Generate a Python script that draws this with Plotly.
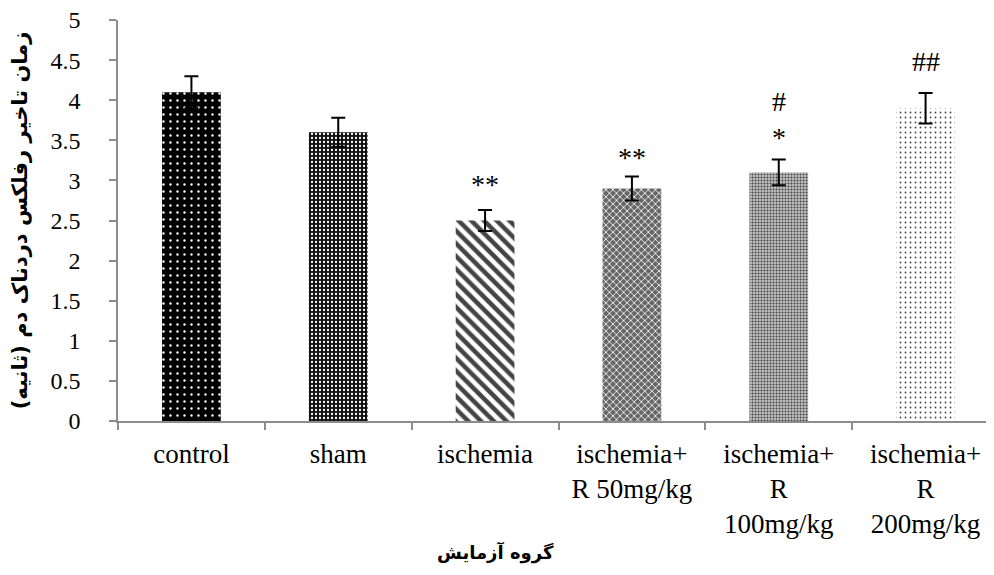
import plotly.graph_objects as go

categories = ["control", "sham", "ischemia", "ischemia+<br>R 50mg/kg",
              "ischemia+<br>R<br>100mg/kg", "ischemia+<br>R<br>200mg/kg"]
means = [4.1, 3.6, 2.5, 2.9, 3.1, 3.9]
errors = [0.2, 0.18, 0.13, 0.15, 0.16, 0.19]

sig_cats = [2, 3, 4, 5]
sig_y = [2.95, 3.29, 3.76, 4.48]
sig_text = ["**", "**", "#<br>*", "##"]

y_title = "زمان تاخیر رفلکس دردناک دم (ثانیه)"
x_title = "گروه آزمایش"

pat_shape = [".", ".", "\\", "x", ".", "."]
pat_bg = ["#000000", "#101010", "#ffffff", "#666666", "#c0c0c0", "#ffffff"]
pat_fg = ["#ffffff", "#505050", "#000000", "#a4a4a4", "#8a8a8a", "#222222"]
pat_size = [7, 4, 9, 5, 3, 5]
pat_sol = [0.09, 0.25, 0.5, 0.3, 0.35, 0.1]

fig = go.Figure()
fig.add_trace(go.Bar(
    x=categories, y=means, width=0.4,
    marker=dict(
        color=pat_bg,
        line=dict(width=0),
        pattern=dict(shape=pat_shape, bgcolor=pat_bg, fgcolor=pat_fg, fgopacity=1,
                     size=pat_size, solidity=pat_sol, fillmode="overlay"),
    ),
    error_y=dict(type="data", array=errors, color="black", thickness=2, width=7),
    showlegend=False,
))

for c, yv, t in zip(sig_cats, sig_y, sig_text):
    fig.add_annotation(x=categories[c], y=yv, text=t, showarrow=False,
                       font=dict(family="Liberation Serif", size=28, color="black"))

# x-axis title, centred on the whole chart as in the reference
fig.add_annotation(xref="paper", yref="paper", x=0.429, y=-0.329,
                   xanchor="center", yanchor="middle",
                   text="<b>" + x_title + "</b>", showarrow=False,
                   font=dict(family="DejaVu Sans", size=18, color="black"))

serif = "Liberation Serif, Times New Roman, serif"
fig.update_layout(
    width=994, height=575,
    margin=dict(l=110, r=3, t=12, b=162),
    paper_bgcolor="white", plot_bgcolor="white",
    font=dict(family=serif, color="black"),
    xaxis=dict(
        type="category", automargin=False,
        range=[-0.5, 5.5], tickson="boundaries",
        ticks="outside", ticklen=7, tickcolor="#8c8c8c", tickwidth=1.5,
        showline=True, linecolor="#8c8c8c", linewidth=1.5,
        showgrid=False, zeroline=False,
        tickfont=dict(family=serif, size=27, color="black"),
        ticklabelstandoff=8, ticklabeloverflow="allow",
        tickangle=0,
    ),
    yaxis=dict(
        range=[0, 5], dtick=0.5, tick0=0, automargin=False,
        ticks="outside", ticklen=7, tickcolor="#8c8c8c", tickwidth=1.5,
        showline=True, linecolor="#8c8c8c", linewidth=1.5,
        showgrid=False, zeroline=False,
        tickfont=dict(family=serif, size=24, color="black"),
        ticklabelstandoff=24, ticklabeloverflow="allow",
        title=dict(text="<b>" + y_title + "</b>", standoff=18,
                   font=dict(family="DejaVu Sans", size=21, color="black")),
    ),
)

fig.write_html("out.html")
